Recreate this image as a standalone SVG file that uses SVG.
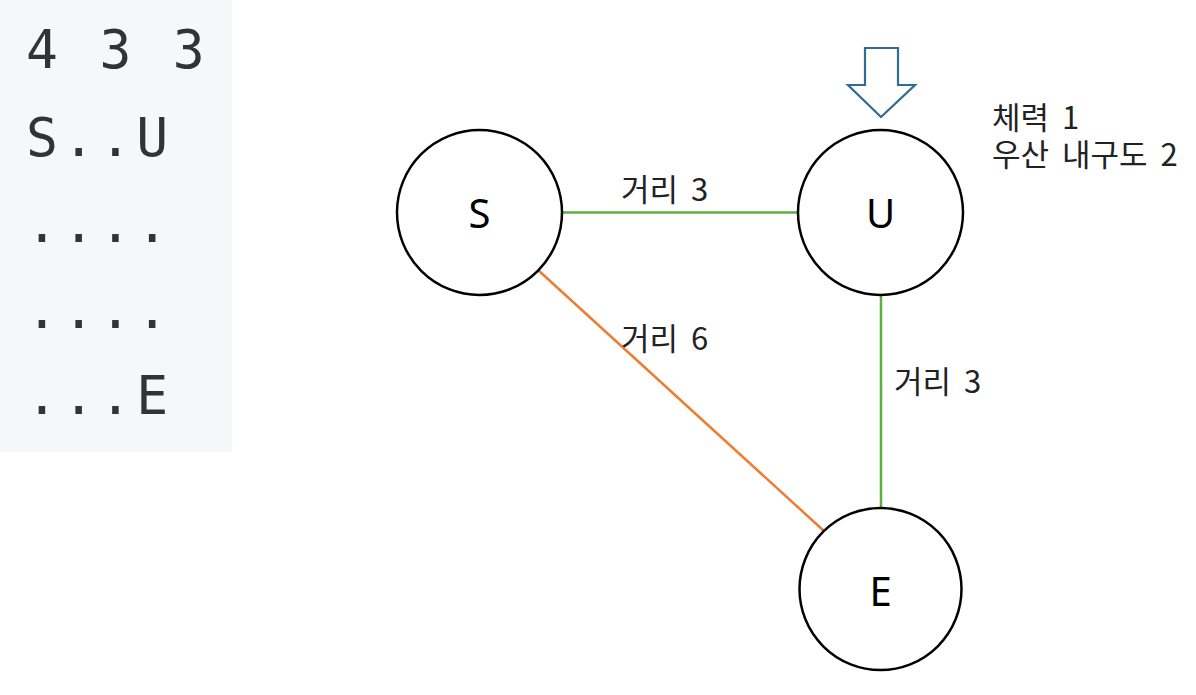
<svg xmlns="http://www.w3.org/2000/svg" width="1196" height="695" viewBox="0 0 1196 695">
<style>
.mono{font-family:"DejaVu Sans Mono","Liberation Mono",monospace;font-size:53px;letter-spacing:4.8px;fill:#333333}
.node{fill:#fff;stroke:#000;stroke-width:2.5}
.nlabel{font-family:"Noto Sans","Noto Sans CJK KR",sans-serif;font-size:40px;fill:#000;text-anchor:middle}
.lbl{font-family:"Noto Sans CJK KR","Noto Sans",sans-serif;font-size:31px;word-spacing:6px;fill:#222}
.green{stroke:#5fae3f;stroke-width:2.5;fill:none}
.orange{stroke:#ed7d31;stroke-width:2.5;fill:none}
</style>
<rect x="0" y="0" width="232" height="452" fill="#f6f7f9"/>
<g id="input">
<text class="mono" x="26" y="68">4 3 3</text>
<text class="mono" x="26" y="156">S..U</text>
<text class="mono" x="26" y="242">....</text>
<text class="mono" x="26" y="328">....</text>
<text class="mono" x="26" y="414">...E</text>
</g>
<g id="connectors">
<line class="green" x1="562" y1="212.5" x2="798" y2="212.5"/>
<line class="green" x1="881" y1="295" x2="881" y2="508"/>
<line class="orange" x1="538" y1="270" x2="824" y2="531"/>
<text class="lbl" x="621" y="201">거리 3</text>
<text class="lbl" x="621" y="350">거리 6</text>
<text class="lbl" x="894" y="393">거리 3</text>
</g>
<g id="node-S">
<circle class="node" cx="479.5" cy="212.5" r="82.5"/>
<text class="nlabel" x="479.5" y="228">S</text>
</g>
<g id="node-U">
<circle class="node" cx="880.5" cy="212.5" r="82.5"/>
<text class="nlabel" x="880.5" y="228">U</text>
</g>
<g id="node-E">
<circle class="node" cx="880.5" cy="589" r="81"/>
<text class="nlabel" x="880.5" y="606">E</text>
</g>
<g id="arrow">
<polygon points="865,48 898,48 898,85 915,85 881,117 848,85 865,85" fill="#fff" stroke="#2e6e8e" stroke-width="2.2" stroke-linejoin="miter"/>
</g>
<g id="note">
<text class="lbl"><tspan x="992" y="129">체력 1</tspan><tspan x="992" y="166">우산 내구도 2</tspan></text>
</g>
</svg>
